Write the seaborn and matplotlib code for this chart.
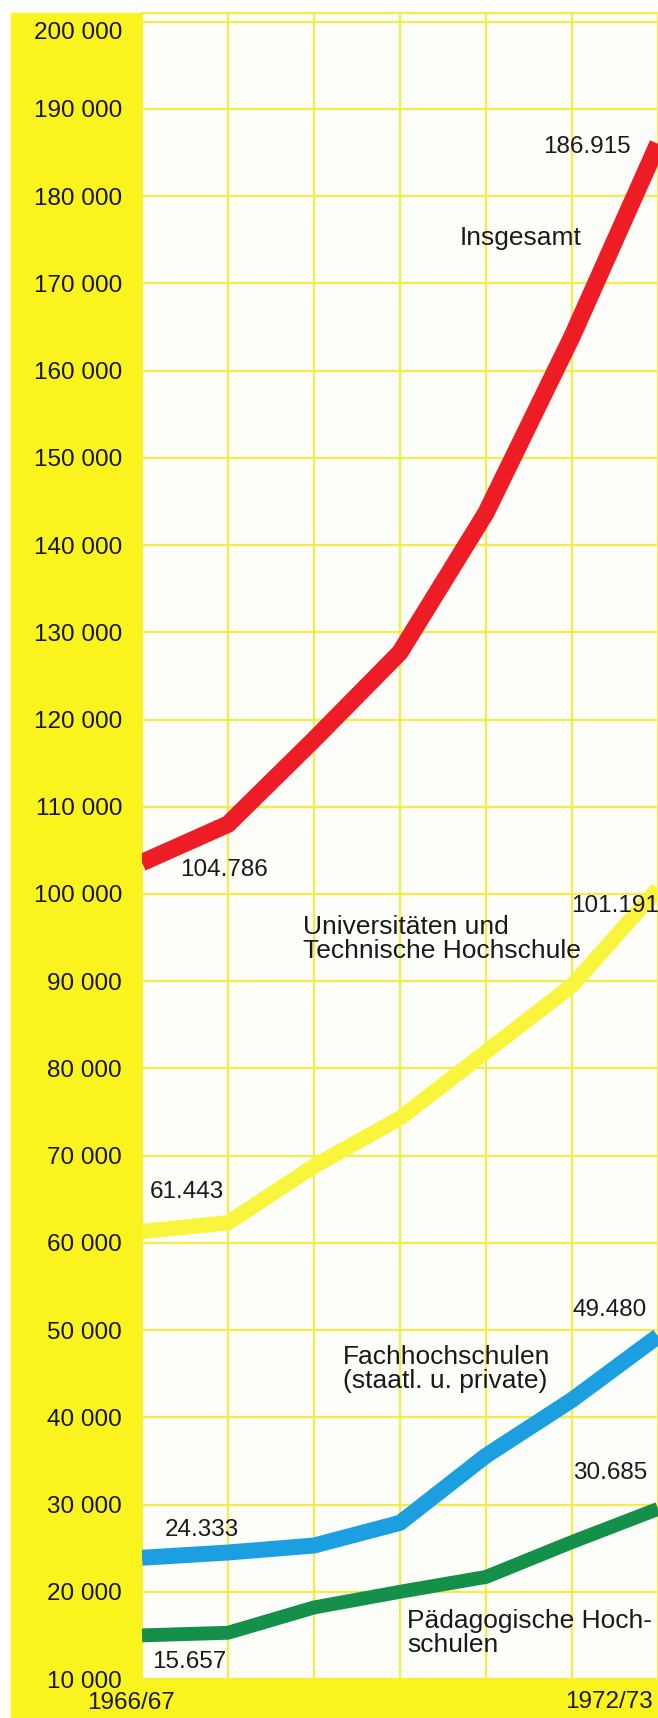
import pandas as pd
import seaborn as sns
import matplotlib.pyplot as plt
from matplotlib.patches import Rectangle
from matplotlib.transforms import ScaledTranslation

# Studierende nach Hochschulart, 1966/67 - 1972/73 (line positions as drawn)
years = ["1966/67", "1967/68", "1968/69", "1969/70", "1970/71", "1971/72", "1972/73"]
insgesamt = [103600, 108000, 117700, 127700, 143700, 163900, 186000]
universitaeten = [61300, 62300, 68800, 74300, 81900, 89500, 100600]
fachhochschulen = [23900, 24500, 25300, 27900, 35600, 42000, 49300]
paedagogische = [15000, 15300, 18200, 20000, 21700, 25700, 29500]
y_ticks = list(range(10000, 200001, 10000))

# printed values at the line ends
first_labels = ["104.786", "61.443", "24.333", "15.657"]
last_labels = ["186.915", "101.191", "49.480", "30.685"]

series_names = ["Insgesamt", "Universitäten", "Fachhochschulen", "Pädagogische"]
series_values = [insgesamt, universitaeten, fachhochschulen, paedagogische]


def main():
    rows = []
    for name, vals in zip(series_names, series_values):
        for i, (yr, v) in enumerate(zip(years, vals)):
            rows.append({"series": name, "pos": i, "year": yr, "value": v})
    df = pd.DataFrame(rows)

    band_yellow = "#faf31e"
    grid_yellow = "#f4ec4a"
    colors = {
        "Insgesamt": "#ee1c25",
        "Universitäten": "#f9f53c",
        "Fachhochschulen": "#1b9fe0",
        "Pädagogische": "#14904a",
    }
    widths = {"Insgesamt": 12.5, "Universitäten": 11, "Fachhochschulen": 11.5, "Pädagogische": 10}

    plt.rcParams["font.family"] = ["Liberation Sans", "DejaVu Sans"]
    W, H = 658, 1718
    fig = plt.figure(figsize=(W / 100, H / 100), dpi=100)
    fig.patch.set_facecolor("white")

    # yellow frame: left column and bottom strip
    fig.add_artist(Rectangle((11 / W, 0), (142 - 11) / W, (H - 13) / H,
                             transform=fig.transFigure, color=band_yellow, zorder=0))
    fig.add_artist(Rectangle((11 / W, 0), 1 - 11 / W, 39 / H,
                             transform=fig.transFigure, color=band_yellow, zorder=0))

    ax = fig.add_axes([142 / W, 39 / H, (W - 142) / W, (1679 - 13) / H])
    ax.set_facecolor("#fdfdfa")

    for name in series_names:
        sub = df[df["series"] == name]
        sns.lineplot(data=sub, x="pos", y="value", color=colors[name],
                     linewidth=widths[name], ax=ax, legend=False,
                     solid_capstyle="butt", solid_joinstyle="round", zorder=3)

    ax.set_xlim(0, 6)
    ax.set_ylim(10000, 201000)
    ax.set_xticks(range(len(years)))
    ax.set_xticklabels([])
    ax.set_yticks(y_ticks)
    ax.set_yticklabels([f"{t:,}".replace(",", " ") for t in y_ticks],
                       fontsize=17.5, color="#151515")
    ax.tick_params(length=0, pad=14.4)
    top_lbl = ax.get_yticklabels()[-1]
    top_lbl.set_transform(top_lbl.get_transform() + ScaledTranslation(0, -0.09, fig.dpi_scale_trans))
    ax.grid(color=grid_yellow, linewidth=1.6)
    ax.set_axisbelow(True)
    ax.set_xlabel("")
    ax.set_ylabel("")
    for side in ["left", "right", "bottom"]:
        ax.spines[side].set_visible(False)
    ax.spines["top"].set_color(grid_yellow)
    ax.spines["top"].set_linewidth(1.6)

    txt = dict(fontsize=17.5, color="#1a1a1a")

    def label(text, i, v, dx, dy, ha):
        ax.annotate(text, xy=(i, v), xytext=(dx, dy),
                    textcoords="offset pixels", ha=ha, va="center",
                    annotation_clip=False, **txt)

    # label offsets (pixels) from first / last points
    first_off = [(38, -7), (8, 40), (23, 28), (10, -27)]
    last_off = [(-27, -3), (1, -17), (-11, 26), (-11, 36)]
    for k, vals in enumerate(series_values):
        label(first_labels[k], 0, vals[0], *first_off[k], "left")
        label(last_labels[k], 6, vals[-1], *last_off[k], "right")

    def fig_xy(px, py):
        return px / W, 1 - py / H

    name_kw = dict(fontsize=19, color="#1a1a1a", va="center", linespacing=1.05)
    fig.text(*fig_xy(521, 238), "Insgesamt", ha="center", **name_kw)
    fig.text(*fig_xy(303, 939), "Universitäten und\nTechnische Hochschule", ha="left", **name_kw)
    fig.text(*fig_xy(343, 1369), "Fachhochschulen\n(staatl. u. private)", ha="left", **name_kw)
    fig.text(*fig_xy(407, 1633), "Pädagogische Hoch-\nschulen", ha="left", **name_kw)

    fig.text(*fig_xy(131, 1703), years[0], ha="center", va="center", **txt)
    fig.text(*fig_xy(653, 1702), years[-1], ha="right", va="center", **txt)

    plt.savefig("out.png", dpi=100)


main()
